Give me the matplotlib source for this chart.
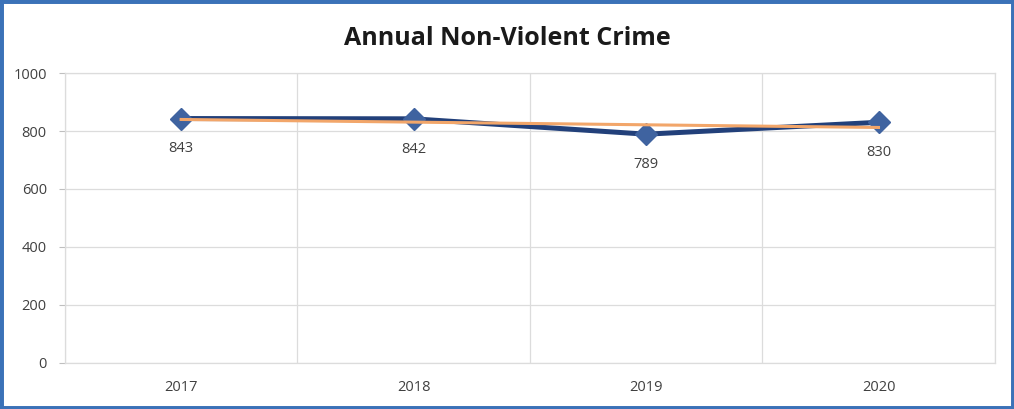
import numpy as np
import matplotlib

matplotlib.use("Agg")
import matplotlib.pyplot as plt

years = ["2017", "2018", "2019", "2020"]
crimes = [843, 842, 789, 830]
y_ticks = [0, 200, 400, 600, 800, 1000]

plt.rcParams["font.family"] = ["Open Sans", "DejaVu Sans"]

fig = plt.figure(figsize=(10.14, 4.09), dpi=100)
fig.patch.set_facecolor("white")
ax = fig.add_axes([0.064, 0.1125, 0.917, 0.709])

x = np.arange(len(years))

# linear trendline (Excel-style) from the series
slope, icpt = np.polyfit(x, crimes, 1)
ax.plot(x, slope * x + icpt, color="#f2a66a", lw=2.2, zorder=4)

ax.plot(x, crimes, color="#22407a", lw=3.6, marker="D", ms=11,
        mfc="#3f63a0", mec="#3f63a0", zorder=3)

for xi, v in zip(x, crimes):
    ax.annotate(str(v), (xi, v), xytext=(0, -16.5), textcoords="offset points",
                ha="center", va="top", fontsize=10.5, color="#404040")

ax.set_xlim(-0.5, len(years) - 0.5)
ax.set_ylim(0, 1000)
ax.set_yticks(y_ticks)
ax.set_xticks(x)
ax.set_xticklabels(years)
ax.set_xticks(np.arange(-0.5, len(years)), minor=True)

ax.grid(axis="y", color="#dcdcdc", lw=0.9)
ax.grid(axis="x", which="minor", color="#dcdcdc", lw=0.9)
ax.tick_params(axis="x", which="both", length=0, pad=12.5, labelsize=10.5, labelcolor="#404040")
ax.tick_params(axis="y", length=4, color="#bfbfbf", pad=9, labelsize=10.5, labelcolor="#404040")
for s in ax.spines.values():
    s.set_color("#dcdcdc")
    s.set_linewidth(0.9)

fig.text(0.5, 0.906, "Annual Non-Violent Crime", ha="center", va="center",
         fontsize=18, fontweight="bold", color="#1a1a1a")

# blue frame around the scanned chart
frame = plt.Rectangle((0, 0), 1, 1, transform=fig.transFigure, fill=False,
                      edgecolor="#3b72b8", lw=5)
fig.patches.append(frame)

fig.savefig("out.png", dpi=100)
